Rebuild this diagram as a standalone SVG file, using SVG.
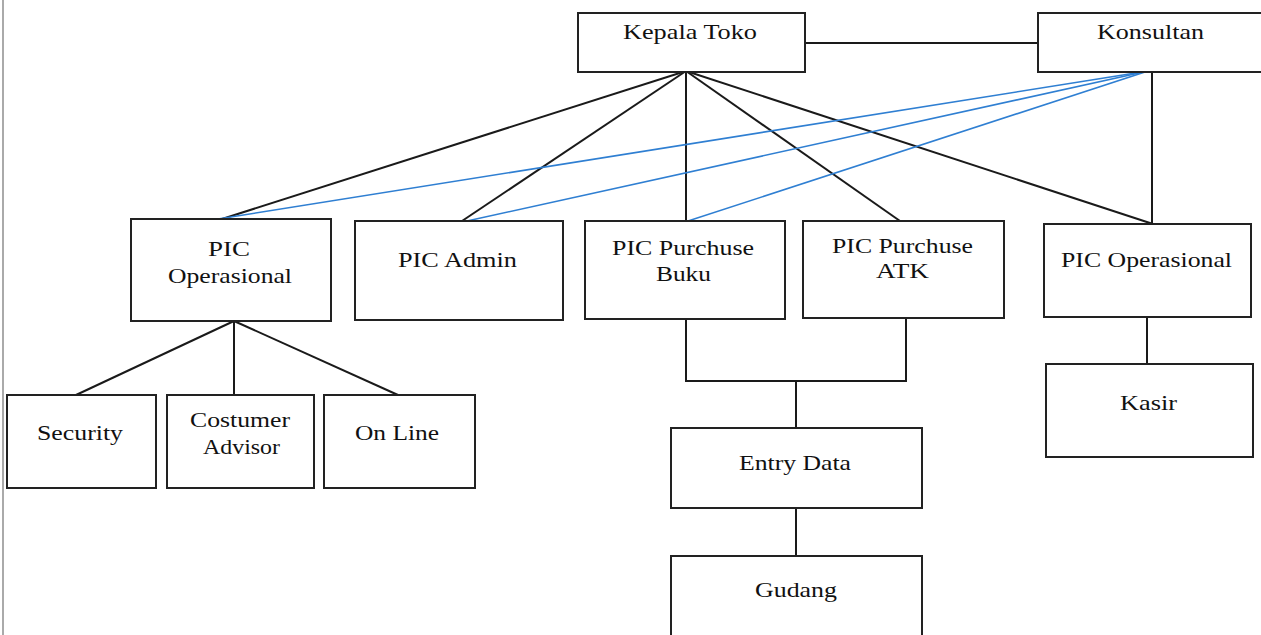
<svg xmlns="http://www.w3.org/2000/svg" width="1261" height="635" viewBox="0 0 1261 635">
<style>
.box{fill:#fff;stroke:#222;stroke-width:2}
.lbl{font-family:"Liberation Serif","Times New Roman",serif;font-size:21px;fill:#111}
.ln{stroke:#1a1a1a;stroke-width:2;fill:none}
.bl{stroke:#2f7fd2;stroke-width:1.6;fill:none}
</style>
<rect x="0" y="0" width="1261" height="635" fill="#fff"/>
<line x1="3" y1="0" x2="3" y2="635" stroke="#aaa" stroke-width="2"/>
<g id="connectors">
<line class="ln" x1="805" y1="43" x2="1038" y2="43"/>
<line class="ln" x1="686" y1="71" x2="222" y2="219"/>
<line class="ln" x1="686" y1="71" x2="462" y2="221"/>
<line class="ln" x1="686" y1="71" x2="686" y2="221"/>
<line class="ln" x1="686" y1="71" x2="900" y2="221"/>
<line class="ln" x1="686" y1="71" x2="1153" y2="224"/>
<line class="ln" x1="1152" y1="72" x2="1152" y2="224"/>
<line class="bl" x1="1148" y1="71" x2="218" y2="219"/>
<line class="bl" x1="1148" y1="71" x2="467" y2="221"/>
<line class="bl" x1="1148" y1="71" x2="688" y2="221"/>
<line class="ln" x1="234" y1="321" x2="76" y2="395"/>
<line class="ln" x1="234" y1="321" x2="234" y2="395"/>
<line class="ln" x1="234" y1="321" x2="398" y2="395"/>
<polyline class="ln" points="686,319 686,381 906,381 906,318"/>
<line class="ln" x1="796" y1="381" x2="796" y2="428"/>
<line class="ln" x1="796" y1="508" x2="796" y2="556"/>
<line class="ln" x1="1147" y1="317" x2="1147" y2="364"/>
</g>
<g id="kepala-toko"><rect class="box" x="578" y="13" width="227" height="59"/><text class="lbl" x="623" y="39" textLength="134" lengthAdjust="spacingAndGlyphs">Kepala Toko</text></g>
<g id="konsultan"><rect class="box" x="1038" y="13" width="230" height="59"/><text class="lbl" x="1097" y="39" textLength="107" lengthAdjust="spacingAndGlyphs">Konsultan</text></g>
<g id="pic-operasional-1"><rect class="box" x="131" y="219" width="200" height="102"/><text class="lbl" x="208" y="256" textLength="42" lengthAdjust="spacingAndGlyphs">PIC</text><text class="lbl" x="168" y="283" textLength="124" lengthAdjust="spacingAndGlyphs">Operasional</text></g>
<g id="pic-admin"><rect class="box" x="355" y="221" width="208" height="99"/><text class="lbl" x="398" y="267" textLength="119" lengthAdjust="spacingAndGlyphs">PIC Admin</text></g>
<g id="pic-purchuse-buku"><rect class="box" x="585" y="221" width="200" height="98"/><text class="lbl" x="612" y="255" textLength="142" lengthAdjust="spacingAndGlyphs">PIC Purchuse</text><text class="lbl" x="656" y="281" textLength="55" lengthAdjust="spacingAndGlyphs">Buku</text></g>
<g id="pic-purchuse-atk"><rect class="box" x="803" y="221" width="201" height="97"/><text class="lbl" x="832" y="253" textLength="141" lengthAdjust="spacingAndGlyphs">PIC Purchuse</text><text class="lbl" x="876" y="278" textLength="53" lengthAdjust="spacingAndGlyphs">ATK</text></g>
<g id="pic-operasional-2"><rect class="box" x="1044" y="224" width="207" height="93"/><text class="lbl" x="1061" y="267" textLength="171" lengthAdjust="spacingAndGlyphs">PIC Operasional</text></g>
<g id="security"><rect class="box" x="7" y="395" width="149" height="93"/><text class="lbl" x="37" y="440" textLength="86" lengthAdjust="spacingAndGlyphs">Security</text></g>
<g id="costumer-advisor"><rect class="box" x="167" y="395" width="147" height="93"/><text class="lbl" x="190" y="427" textLength="100" lengthAdjust="spacingAndGlyphs">Costumer</text><text class="lbl" x="203" y="454" textLength="77" lengthAdjust="spacingAndGlyphs">Advisor</text></g>
<g id="on-line"><rect class="box" x="324" y="395" width="151" height="93"/><text class="lbl" x="355" y="440" textLength="84" lengthAdjust="spacingAndGlyphs">On Line</text></g>
<g id="entry-data"><rect class="box" x="671" y="428" width="251" height="80"/><text class="lbl" x="739" y="470" textLength="112" lengthAdjust="spacingAndGlyphs">Entry Data</text></g>
<g id="gudang"><rect class="box" x="671" y="556" width="251" height="90"/><text class="lbl" x="755" y="597" textLength="82" lengthAdjust="spacingAndGlyphs">Gudang</text></g>
<g id="kasir"><rect class="box" x="1046" y="364" width="207" height="93"/><text class="lbl" x="1120" y="410" textLength="57" lengthAdjust="spacingAndGlyphs">Kasir</text></g>
</svg>
